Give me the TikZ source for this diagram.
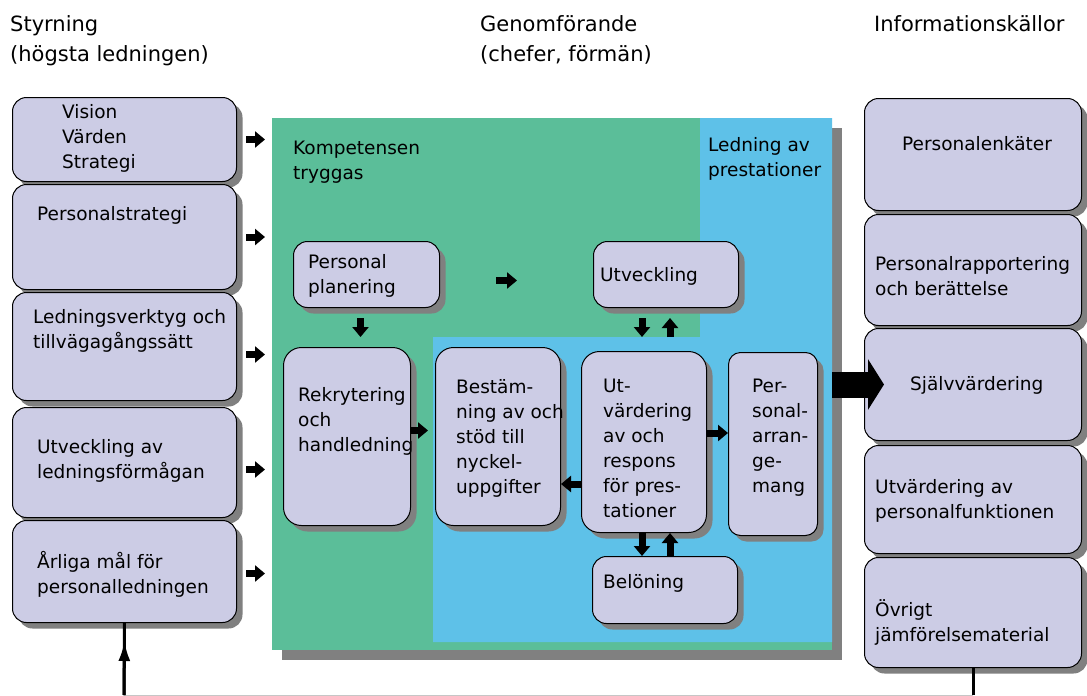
\documentclass[tikz,border=0pt]{standalone}
\usepackage{fontspec}
\setmainfont{DejaVu Sans}
\usetikzlibrary{arrows.meta,shadows,calc}
\definecolor{boxfill}{RGB}{204,204,229}
\definecolor{kompgreen}{RGB}{91,190,153}
\definecolor{ledblue}{RGB}{94,193,232}
\definecolor{shadowgray}{RGB}{128,128,128}
\newcommand{\bxfont}{\fontsize{18.5}{25}\selectfont}
\newcommand{\hdfont}{\fontsize{21}{30}\selectfont}

\begin{document}
\begin{tikzpicture}[x=1pt, y=-1pt,
		box/.style={draw, line width=1pt, fill=boxfill, rounded corners=14pt, anchor=north west, inner sep=0pt,
			drop shadow={shadow xshift=6pt, shadow yshift=-6pt, fill=shadowgray, opacity=1}},
		sz/.style 2 args={minimum width=#1pt, minimum height=#2pt},
		txt/.style={align=left, anchor=north west, inner sep=0pt, font=\bxfont},
		hdr/.style={align=left, anchor=north west, inner sep=0pt, font=\hdfont},
		blk/.style={line width=7pt, -{Triangle[length=10pt, width=16pt]}},
		bigblk/.style={line width=26pt, -{Triangle[length=16pt, width=50pt]}},
		fbk/.style={line width=3pt, black}]
		\useasboundingbox (0,0) rectangle (1087,696);

		% headings
		\node[hdr] (styr) at (10,15) {Styrning\\(högsta ledningen)};
		\node[hdr] (genom) at (480,15) {Genomförande\\(chefer, förmän)};
		\node[hdr] (info) at (874,15) {Informationskällor};

		% left column
		\node[box, sz={224}{84}] (vis) at (12,97) {};
		\node[txt] (vis-t) at (62,104) {Vision\\Värden\\Strategi};
		\node[box, sz={224}{105}] (pstrat) at (12,184) {};
		\node[txt] (pstrat-t) at (37,206) {Personalstrategi};
		\node[box, sz={224}{108}] (lverk) at (12,292) {};
		\node[txt] (lverk-t) at (33,309) {Ledningsverktyg och\\tillvägagångssätt};
		\node[box, sz={224}{110}] (ulf) at (12,407) {};
		\node[txt] (ulf-t) at (37,439) {Utveckling av\\ledningsförmågan};
		\node[box, sz={224}{102}] (mal) at (12,520) {};
		\node[txt] (mal-t) at (37,551) {Årliga mål för\\personalledningen};

		% middle panel
		\node[fill=kompgreen, anchor=north west, inner sep=0pt, minimum width=560pt, minimum height=532pt,
			drop shadow={shadow xshift=10pt, shadow yshift=-10pt, fill=shadowgray, opacity=1}] (panel) at (272,118) {};
		\fill[ledblue] (700,118) -- (832,118) -- (832,642) -- (433,642) -- (433,337) -- (700,337) -- cycle;
		\node[txt] (komp) at (293,141) {Kompetensen\\tryggas};
		\node[txt] (ledn) at (708,137) {Ledning av\\prestationer};

		\foreach \b/\dy in {vis/0, pstrat/0, lverk/8, ulf/7, mal/2}
			\path[blk, shorten <=9pt, shorten >=7pt] ($(\b.east)+(0,\dy)$) edge ($(\b.east -| panel.west)+(0,\dy)$);

		\node[box, sz={146}{66}] (plan) at (293,241) {};
		\node[txt] (plan-t) at (308,254) {Personal\\planering};
		\node[box, sz={145}{66}] (utv) at (593,241) {};
		\node[txt] (utv-t) at (600,267) {Utveckling};
		\node[box, sz={127}{178}, rounded corners=18pt] (rek) at (283,347) {};
		\node[txt] (rek-t) at (298,387) {Rekrytering\\och\\handledning};
		\node[box, sz={125}{178}, rounded corners=18pt] (best) at (435,347) {};
		\node[txt] (best-t) at (456,379) {Bestäm-\\ning av och\\stöd till\\nyckel-\\uppgifter};
		\node[box, sz={125}{181}, rounded corners=18pt] (utvd) at (581,351) {};
		\node[txt] (utvd-t) at (603,379) {Ut-\\värdering\\av och\\respons\\för pres-\\tationer};
		\node[box, sz={89}{183}, rounded corners=12pt] (arr) at (728,352) {};
		\node[txt] (arr-t) at (752,379) {Per-\\sonal-\\arran-\\ge-\\mang};
		\node[box, sz={145}{67}] (bel) at (592,556) {};
		\node[txt] (bel-t) at (603,574) {Belöning};

		\path[blk, shorten <=56pt, shorten >=76pt] ($(plan.east)+(0,6)$) edge ($(utv.west)+(0,6)$);
		\path[blk, shorten <=10pt, shorten >=10pt] ($(plan.south)+(-6,0)$) edge ($(plan.south |- rek.north)+(-6,0)$);
		\path[blk, shorten <=10pt, shorten >=14pt] ($(utv.south)+(-24,0)$) edge ($(utv.south |- utvd.north)+(-24,0)$);
		\path[blk, shorten <=14pt, shorten >=10pt] ($(utv.south |- utvd.north)+(4,0)$) edge ($(utv.south)+(4,0)$);
		\path[blk, shorten >=7pt] ($(rek.east)+(0,-6)$) edge ($(rek.east -| best.west)+(0,-6)$);
		\path[blk] ($(utvd.west)+(0,42)$) edge ($(utvd.west -| best.east)+(0,42)$);
		\path[blk] ($(utvd.east)+(0,-9)$) edge ($(utvd.east -| arr.west)+(0,-9)$);
		\path[blk] ($(utvd.south)+(-2,0)$) edge ($(utvd.south |- bel.north)+(-2,0)$);
		\path[blk] ($(utvd.south |- bel.north)+(26,0)$) edge ($(utvd.south)+(26,0)$);

		% right column
		\node[box, sz={217}{112}] (enk) at (864,98) {};
		\node[txt] (enk-t) at (902,136) {Personalenkäter};
		\node[box, sz={217}{111}] (rapp) at (864,214) {};
		\node[txt] (rapp-t) at (875,256) {Personalrapportering\\och berättelse};
		\node[box, sz={217}{112}] (sjalv) at (864,328) {};
		\node[txt] (sjalv-t) at (910,376) {Självvärdering};
		\node[box, sz={217}{108}] (utvp) at (864,445) {};
		\node[txt] (utvp-t) at (875,479) {Utvärdering av\\personalfunktionen};
		\node[box, sz={217}{110}] (ovr) at (864,557) {};
		\node[txt] (ovr-t) at (875,599) {Övrigt\\jämförelsematerial};

		\path[bigblk] (panel.east |- sjalv.west) edge ($(sjalv.west)+(20,0)$);

		% feedback loop
		\coordinate (fbl) at (124,695);
		\coordinate (fbtip) at ($(mal.south)+(0,18)$);
		\draw[fbk] (ovr.south) -- (ovr.south |- fbl);
		\draw[gray!45, line width=0.8pt] (ovr.south |- fbl) -- (fbl);
		\draw[fbk] (fbl) -- (mal.south);
		\draw[fbk, -{Latex[length=20pt, width=12pt]}] (fbl) -- (fbtip);
	\end{tikzpicture}
\end{document}
